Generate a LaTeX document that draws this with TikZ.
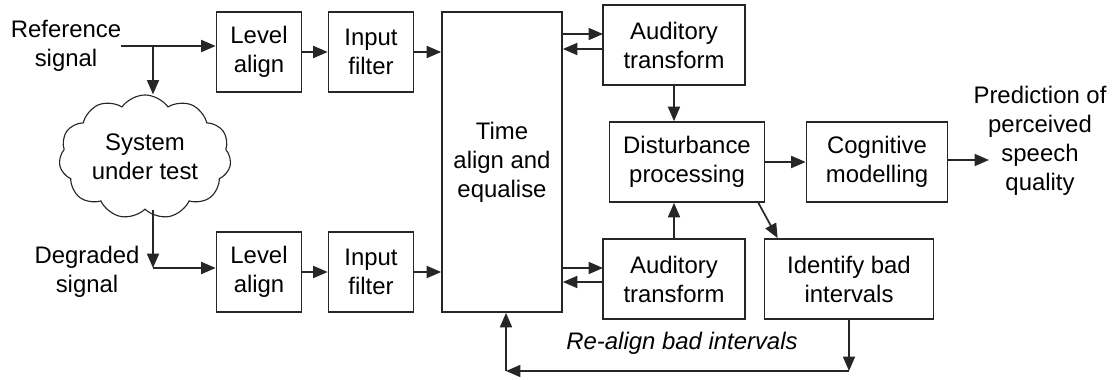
\documentclass[tikz,border=0pt]{standalone}
\usepackage{fontspec}
\setmainfont{Liberation Sans}
\usepackage{tikz}
\usetikzlibrary{arrows.meta,positioning,shapes.symbols}

\begin{document}
\begin{tikzpicture}[
    x=0.025cm, y=-0.025cm,
    font=\fontsize{17}{20.6}\selectfont,
    box/.style={draw=black!85, line width=1.2pt, align=center,
                minimum width=2.125cm, minimum height=2cm, inner sep=2pt},
    arrow/.style={-{Triangle[length=3.6mm,width=3mm]}, line width=1.2pt, draw=black!85},
    label/.style={align=center, inner sep=0pt}
]
\useasboundingbox (0,0) rectangle (1115,380);

% input side
\node[label] (refl) at (66,46) {Reference\\signal};
\node[label] (degl) at (87,272) {Degraded\\signal};
\node[cloud, draw=black!85, line width=0.8pt, cloud puffs=11, cloud puff arc=110,
      aspect=1.6, inner sep=-4pt, minimum width=4.3cm, minimum height=3.1cm,
      align=center] (sut) at (145,157) {System\\under test};

\node[box] (la1) at (259,52) {Level\\align};
\node[box] (if1) at (371,52) {Input\\filter};
\node[box] (la2) at (259,272) {Level\\align};
\node[box] (if2) at (371,272) {Input\\filter};

% processing
\node[box, minimum width=3cm, minimum height=7.5cm] (time) at (502,162) {Time\\align and\\equalise};
\node[box, minimum width=3.55cm] (aud1) at (674,45) {Auditory\\transform};
\node[box, minimum width=3.55cm] (aud2) at (674,279) {Auditory\\transform};
\node[box, minimum width=3.875cm] (dist) at (687,162) {Disturbance\\processing};
\node[box, minimum width=3.525cm] (cog) at (877,162) {Cognitive\\modelling};
\node[box, minimum width=4.225cm] (ident) at (849,279) {Identify bad\\intervals};
\node[label] (pred) at (1040,141) {Prediction of\\perceived\\speech\\quality};

\coordinate (refbr) at (153,46);
\coordinate (degbr) at (153,268);
\coordinate (a1in) at (603,34);
\coordinate (a1out) at (603,49);
\coordinate (a2in) at (603,268);
\coordinate (a2out) at (603,282);
\coordinate (qout) at (989,160);
\coordinate (fbl) at (506,371);

\draw[arrow] (refl.east) -- (refl.east -| la1.west);
\draw[arrow] (refbr) -- (refbr |- sut.north);
\draw[arrow] (sut.south -| degbr) -- (degbr);
\draw[arrow] (degbr) -- (degbr -| la2.west);
\draw[arrow] (la1) -- (if1);
\draw[arrow] (if1) -- (if1 -| time.west);
\draw[arrow] (la2) -- (if2);
\draw[arrow] (if2) -- (if2 -| time.west);

\draw[arrow] (time.east |- a1in) -- (a1in);
\draw[arrow] (a1out) -- (time.east |- a1out);
\draw[arrow] (time.east |- a2in) -- (a2in);
\draw[arrow] (a2out) -- (time.east |- a2out);

\draw[arrow] (aud1) -- (aud1 |- dist.north);
\draw[arrow] (aud2) -- (aud2 |- dist.south);
\draw[arrow] (dist) -- (cog);
\draw[arrow] (cog.east |- qout) -- (qout);
\draw[arrow] ([xshift=-0.175cm]dist.south east) -- ([xshift=0.35cm]ident.north west);

% feedback loop
\draw[arrow] (ident.south) -- (ident.south |- fbl);
\draw[arrow] (ident.south |- fbl) -- (fbl);
\draw[arrow] (fbl) -- (fbl |- time.south);
\node[label, font=\fontsize{17}{20.6}\selectfont\itshape] (realign) at (682,343) {Re-align bad intervals};
\end{tikzpicture}
\end{document}
